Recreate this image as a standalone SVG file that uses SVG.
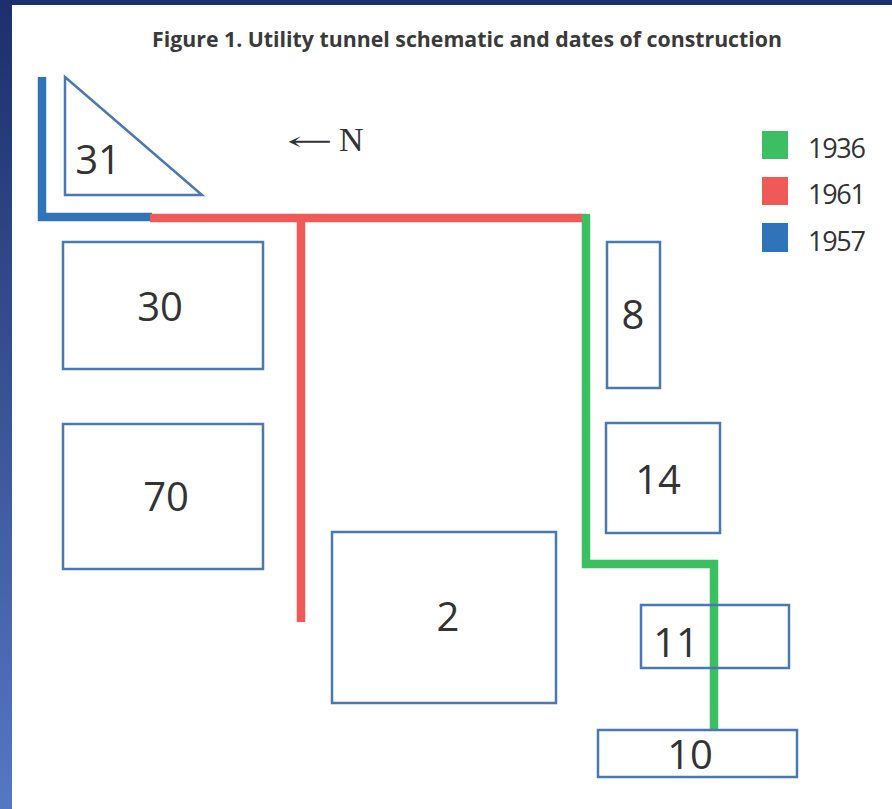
<svg xmlns="http://www.w3.org/2000/svg" width="892" height="809" viewBox="0 0 892 809">
<defs>
<linearGradient id="bg" x1="0" y1="0" x2="0" y2="1">
<stop offset="0" stop-color="#1d2f6c"/>
<stop offset="1" stop-color="#5677c2"/>
</linearGradient>
<style>
.bld{fill:#fff;stroke:#4a78b0;stroke-width:2.5}
.num{font-family:"Open Sans","Noto Sans","Liberation Sans",sans-serif;font-size:40px;fill:#333;text-anchor:middle}
.leg{font-family:"Open Sans","Noto Sans","Liberation Sans",sans-serif;font-size:27px;fill:#333}
.t{fill:none;stroke-width:8.5;stroke-linecap:butt;stroke-linejoin:miter}
</style>
</defs>
<rect width="892" height="809" fill="url(#bg)"/>
<rect x="12" y="5" width="880" height="804" fill="#fff"/>
<text x="152" y="47" font-family="'Open Sans','Liberation Sans',sans-serif" font-weight="bold" font-size="22" fill="#3a3a3a" textLength="630" lengthAdjust="spacingAndGlyphs">Figure 1. Utility tunnel schematic and dates of construction</text>
<text x="287" y="150" font-family="'DejaVu Serif','Liberation Serif',serif" font-size="26" fill="#333" textLength="46" lengthAdjust="spacingAndGlyphs">←</text>
<text x="339" y="151" font-family="'Liberation Serif',serif" font-size="34" fill="#333">N</text>
<g id="legend">
<rect x="762" y="131" width="26" height="28" fill="#3cbf62"/>
<rect x="762" y="177" width="26" height="28" fill="#ef5a58"/>
<rect x="762" y="223" width="26" height="29" fill="#2f74b8"/>
<text class="leg" x="808" y="158" textLength="58">1936</text>
<text class="leg" x="808" y="204" textLength="58">1961</text>
<text class="leg" x="808" y="251" textLength="58">1957</text>
</g>
<g id="connectors">
<path class="t" stroke="#2f74b8" d="M42 77 V217 H152"/>
<path class="t" stroke="#ef5a58" d="M150 218 H586"/>
<path class="t" stroke="#ef5a58" d="M301 218 V622"/>
<path class="t" stroke="#3cbf62" d="M586 214 V564 H714 V732"/>
</g>
<g id="n31">
<polygon class="bld" points="65,77 65,195 202,195"/>
<text class="num" x="98" y="174">31</text>
</g>
<g id="n30">
<rect class="bld" x="63" y="242" width="200" height="127"/>
<text class="num" x="160" y="321">30</text>
</g>
<g id="n70">
<rect class="bld" x="63" y="424" width="200" height="145"/>
<text class="num" x="166" y="511">70</text>
</g>
<g id="n2">
<rect class="bld" x="332" y="532" width="224" height="171"/>
<text class="num" x="448" y="631">2</text>
</g>
<g id="n8">
<rect class="bld" x="607" y="242" width="53" height="146"/>
<text class="num" x="633" y="329">8</text>
</g>
<g id="n14">
<rect class="bld" x="606" y="423" width="114" height="110"/>
<text class="num" x="658" y="494">14</text>
</g>
<g id="n11">
<rect class="bld" x="641" y="605" width="148" height="63" style="fill:none"/>
<text class="num" x="676" y="657">11</text>
</g>
<g id="n10">
<rect class="bld" x="598" y="730" width="199" height="47"/>
<text class="num" x="690" y="769">10</text>
</g>
</svg>
